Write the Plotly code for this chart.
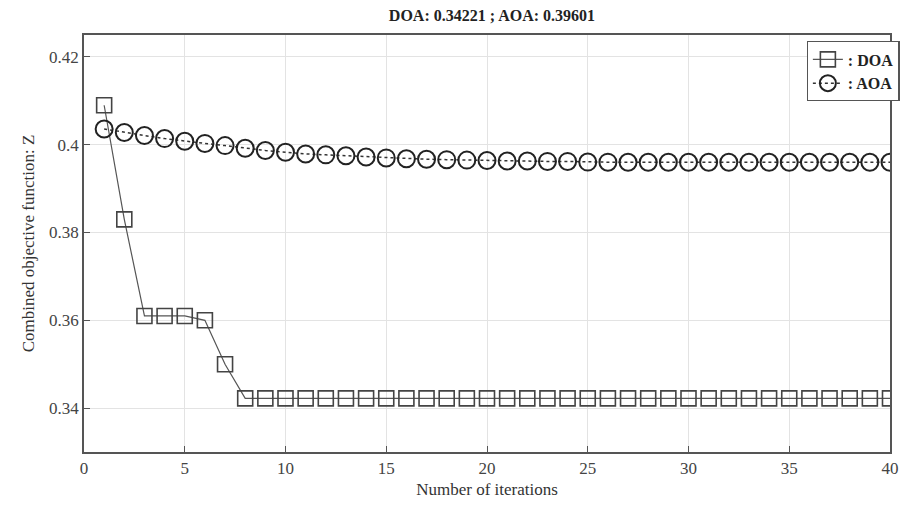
import plotly.graph_objects as go

iterations = list(range(1, 41))
doa_values = [0.409, 0.383, 0.361, 0.361, 0.361, 0.360, 0.350] + [0.34221] * 33
aoa_values = [0.4036, 0.4028, 0.4021, 0.4014, 0.4008, 0.4003, 0.3998, 0.3992, 0.3987, 0.3983,
              0.3979, 0.3977, 0.3975, 0.3972, 0.3970, 0.3968, 0.3967, 0.3966, 0.3965, 0.3964,
              0.3963, 0.3963, 0.3962, 0.3962, 0.39605, 0.39603, 0.39602, 0.39601, 0.39601, 0.39601,
              0.39601, 0.39601, 0.39601, 0.39601, 0.39601, 0.39601, 0.39601, 0.39601, 0.39601, 0.39601]
x_ticks = [0, 5, 10, 15, 20, 25, 30, 35, 40]
y_ticks = [0.34, 0.36, 0.38, 0.40, 0.42]
y_tick_labels = ["0.34", "0.36", "0.38", "0.4", "0.42"]

serif = "Liberation Serif"

fig = go.Figure()
fig.add_trace(go.Scatter(
    x=iterations, y=doa_values, mode="lines+markers", name="<b>: DOA</b>",
    line=dict(color="#555555", width=1.2),
    marker=dict(symbol="square-open", size=15, color="#444444", line=dict(width=1.6)),
))
fig.add_trace(go.Scatter(
    x=iterations, y=aoa_values, mode="lines+markers", name="<b>: AOA</b>",
    line=dict(color="#333333", width=1.5, dash="dot"),
    marker=dict(symbol="circle-open", size=17, color="#222222", line=dict(width=2)),
))

axis_common = dict(
    showgrid=True, gridcolor="#e3e3e3", gridwidth=1,
    showline=True, linecolor="#555555", linewidth=1.5, mirror=True,
    ticks="inside", ticklen=6, tickcolor="#555555",
    zeroline=False,
    tickfont=dict(family=serif, size=17, color="#444444"),
)

fig.update_layout(
    width=906, height=512,
    margin=dict(l=84, r=6, t=35, b=60),
    paper_bgcolor="white", plot_bgcolor="white",
    title=dict(text="<b>DOA: 0.34221 ; AOA: 0.39601</b>", x=0.543, xanchor="center",
               y=0.97, yanchor="middle",
               font=dict(family=serif, size=16, color="#222222")),
    xaxis=dict(range=[0, 40], tickvals=x_ticks,
               title=dict(text="Number of iterations", standoff=6,
                          font=dict(family=serif, size=17, color="#333333")),
               **axis_common),
    yaxis=dict(range=[0.33, 0.425], tickvals=y_ticks, ticktext=y_tick_labels,
               title=dict(text="Combined objective function: Z", standoff=10,
                          font=dict(family=serif, size=17, color="#333333")),
               **axis_common),
    legend=dict(x=1.012, xanchor="right", y=0.985, yanchor="top",
                bgcolor="white", bordercolor="#555555", borderwidth=1.2,
                font=dict(family=serif, size=16, color="#222222"),
                itemwidth=30, tracegroupgap=0),
    showlegend=True,
)

fig.write_html("out.html")
